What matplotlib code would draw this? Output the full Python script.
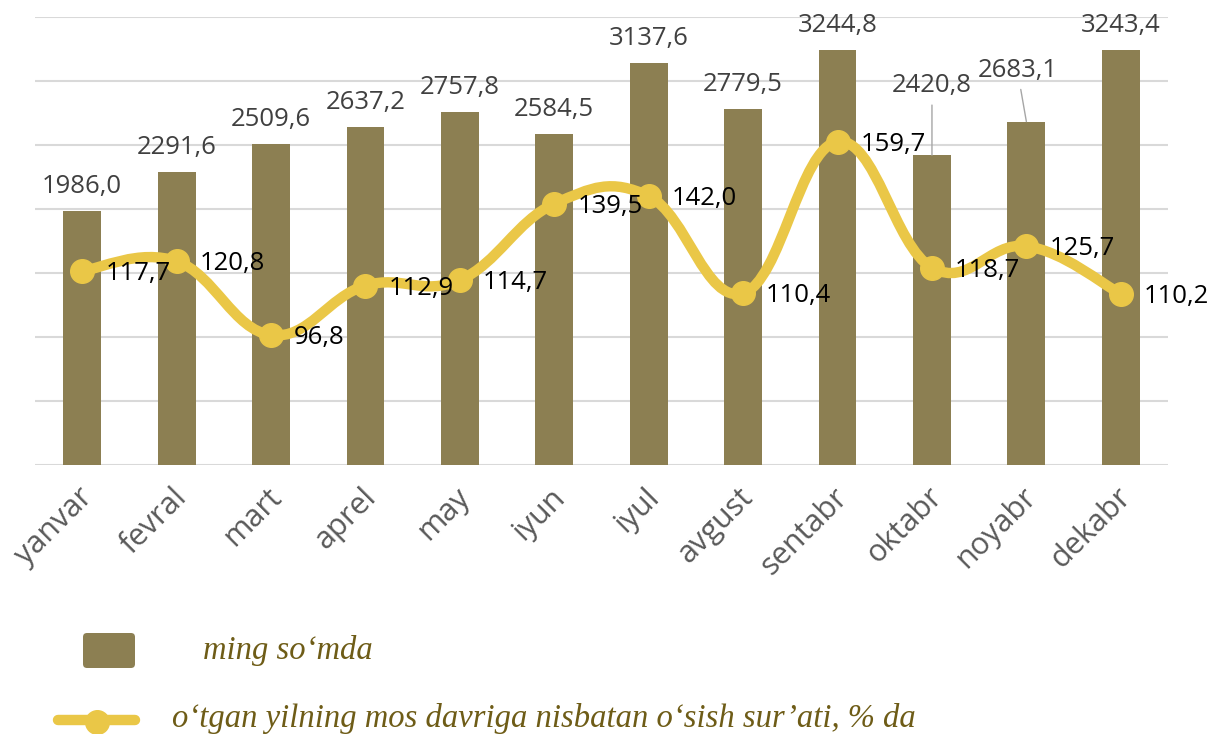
import numpy as np
import matplotlib.pyplot as plt
from matplotlib.path import Path
from matplotlib.patches import PathPatch, FancyBboxPatch
from matplotlib.lines import Line2D
from matplotlib.transforms import ScaledTranslation

months = ['yanvar', 'fevral', 'mart', 'aprel', 'may', 'iyun',
          'iyul', 'avgust', 'sentabr', 'oktabr', 'noyabr', 'dekabr']
amount = [1986.0, 2291.6, 2509.6, 2637.2, 2757.8, 2584.5,
          3137.6, 2779.5, 3244.8, 2420.8, 2683.1, 3243.4]
growth = [117.7, 120.8, 96.8, 112.9, 114.7, 139.5,
          142.0, 110.4, 159.7, 118.7, 125.7, 110.2]

BAR_COLOR = '#8C7F52'
LINE_COLOR = '#EAC747'
GRID_COLOR = '#D9D9D9'
LEGEND_TEXT = '#6E5C17'
FONT = 'Open Sans'

# bar labels that Excel pushed up with a leader line (pixel offsets)
leader_offsets = {9: (0, 63), 10: (-9, 45)}


def fmt(v):
    return f"{v:.1f}".replace('.', ',')


def smooth_path(xs, ys, k=0.2):
    """Excel-like smoothed line as cubic bezier segments."""
    pts = np.column_stack([xs, ys]).astype(float)
    ext = np.vstack([pts[0], pts, pts[-1]])
    verts = [tuple(pts[0])]
    codes = [Path.MOVETO]
    for i in range(len(pts) - 1):
        p0, p1, p2, p3 = ext[i], ext[i + 1], ext[i + 2], ext[i + 3]
        c1 = p1 + (p2 - p0) * k
        c2 = p2 - (p3 - p1) * k
        verts += [tuple(c1), tuple(c2), tuple(p2)]
        codes += [Path.CURVE4] * 3
    return Path(verts, codes)


fig = plt.figure(figsize=(12.1, 7.34), dpi=100)
ax = fig.add_axes([35 / 1210, (734 - 465) / 734, (1168 - 35) / 1210, (465 - 17) / 734])

x = np.arange(len(months))
ax.bar(x, amount, width=0.4, color=BAR_COLOR, zorder=2)
ax.set_xlim(-0.5, 11.5)
ax.set_ylim(0, 3500)
ax.set_yticks(np.arange(0, 3501, 500))
ax.yaxis.set_tick_params(length=0, labelleft=False)
ax.grid(axis='y', color=GRID_COLOR, lw=1.5, zorder=0)
ax.set_axisbelow(True)
for s in ax.spines.values():
    s.set_visible(False)

ax.set_xticks(x)
ax.set_xticklabels(months, rotation=45, ha='right', va='center',
                   rotation_mode='anchor', fontsize=22, color='#595959',
                   family=FONT)
ax.tick_params(axis='x', length=0, pad=14)
shift = ScaledTranslation(6 / 100, -8 / 100, fig.dpi_scale_trans)
for lab in ax.get_xticklabels():
    lab.set_transform(lab.get_transform() + shift)

for i, v in enumerate(amount):
    if i in leader_offsets:
        dx, dy = leader_offsets[i]
        ax.annotate(fmt(v), (i, v), xytext=(dx, dy), textcoords='offset pixels',
                    ha='center', va='baseline', fontsize=18.5, color='#404040',
                    family=FONT,
                    arrowprops=dict(arrowstyle='-', color='#A6A6A6', lw=1,
                                    shrinkA=3, shrinkB=0))
    else:
        ax.annotate(fmt(v), (i, v), xytext=(0, 18), textcoords='offset pixels',
                    ha='center', va='baseline', fontsize=18.5, color='#404040',
                    family=FONT)

ax2 = ax.twinx()
ax2.set_ylim(54.5, 200.3)
ax2.axis('off')
ax2.add_patch(PathPatch(smooth_path(x, growth), fill=False, edgecolor=LINE_COLOR,
                        lw=7.5, capstyle='round', joinstyle='round', zorder=3))
ax2.plot(x, growth, 'o', ms=17, color=LINE_COLOR, zorder=4)
for i, v in enumerate(growth):
    ax2.annotate(fmt(v), (i, v), xytext=(23, -9), textcoords='offset pixels',
                 ha='left', va='baseline', fontsize=18.5, color='black',
                 family=FONT, zorder=5)

# legend
tr = fig.dpi_scale_trans
fig.add_artist(FancyBboxPatch((0.83, 0.66), 0.52, 0.35, transform=tr,
                              boxstyle='round,pad=0,rounding_size=0.04',
                              facecolor=BAR_COLOR, edgecolor='none'))
fig.add_artist(Line2D([0.58, 1.35], [0.14, 0.14], transform=tr, lw=7.5,
                      color=LINE_COLOR, solid_capstyle='round'))
fig.add_artist(Line2D([0.97], [0.12], transform=tr, marker='o', ms=17,
                      color=LINE_COLOR))
fig.text(2.03, 0.84, 'ming so‘mda', transform=tr, va='center', ha='left',
         family='Liberation Serif', style='italic', fontsize=23.5, color=LEGEND_TEXT)
fig.text(1.72, 0.15, 'o‘tgan yilning mos davriga nisbatan o‘sish sur’ati, % da',
         transform=tr, va='center', ha='left', family='Liberation Serif',
         style='italic', fontsize=23.5, color=LEGEND_TEXT)

fig.savefig('out.png', dpi=100)
